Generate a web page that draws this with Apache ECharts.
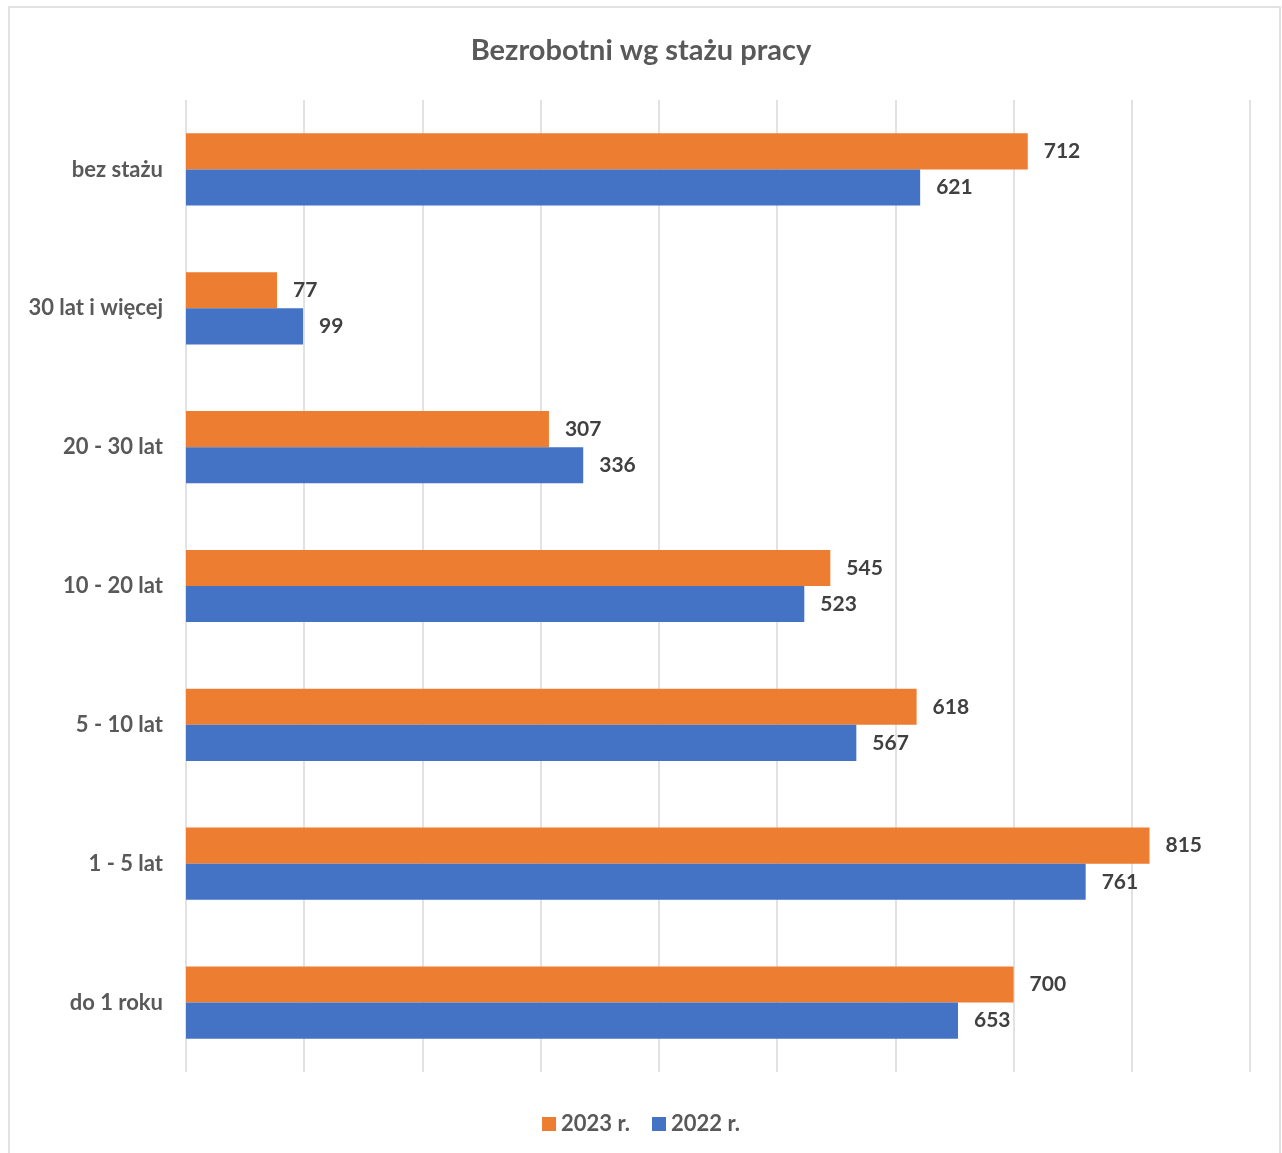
<!DOCTYPE html>
<html><head><meta charset="utf-8">
<script src="https://cdn.jsdelivr.net/npm/echarts@6/dist/echarts.min.js"></script>
<style>html,body{margin:0;padding:0;background:#fff;}#c{width:1282px;height:1153px;}</style>
</head><body><div id="c"></div>
<script>
const categories = ['do 1 roku','1 - 5 lat','5 - 10 lat','10 - 20 lat','20 - 30 lat','30 lat i więcej','bez stażu'];
const values2023 = [700, 815, 618, 545, 307, 77, 712];
const values2022 = [653, 761, 567, 523, 336, 99, 621];
const seriesNames = ['2023 r.', '2022 r.'];
const FONT = 'Lato, "Open Sans", sans-serif';
const chart = echarts.init(document.getElementById('c'));
const lbl = {show:true, position:'right', distance:16, fontFamily:FONT, fontWeight:'bold', fontSize:21, color:'#404040'};
chart.setOption({
  animation:false,
  graphic:[{type:'rect', shape:{x:9,y:7,width:1271,height:1170}, style:{fill:'none', stroke:'#d9d9d9', lineWidth:1.5}, z:-1}],
  title:{text:'Bezrobotni wg stażu pracy', left:'center', top:31, textStyle:{fontFamily:FONT, fontWeight:'bold', fontSize:29, color:'#595959'}},
  legend:{data:seriesNames, bottom:13, left:'center', itemWidth:14, itemHeight:14, itemGap:22, icon:'rect',
    formatter:function(n){return '{b|' + n + '}';},
    textStyle:{fontFamily:FONT, fontWeight:'bold', fontSize:22, color:'#595959',
      rich:{b:{fontFamily:FONT, fontWeight:'bold', fontSize:22, color:'#595959'}}}},
  grid:{left:186, right:32, top:100, bottom:81, containLabel:false},
  xAxis:{type:'value', min:0, max:900, interval:100, axisLabel:{show:false}, axisLine:{show:false}, axisTick:{show:false},
    splitLine:{lineStyle:{color:'#d9d9d9', width:1.5}}},
  yAxis:{type:'category', data:categories, axisLine:{show:false}, axisTick:{show:false},
    axisLabel:{margin:23, fontFamily:FONT, fontWeight:'bold', fontSize:22, color:'#595959'}},
  series:[
    {name:'2023 r.', type:'bar', data:values2023, barGap:'0%', barCategoryGap:'48%', itemStyle:{color:'#ed7d31'}, label:lbl},
    {name:'2022 r.', type:'bar', data:values2022, barGap:'0%', barCategoryGap:'48%', itemStyle:{color:'#4472c4'}, label:lbl}
  ]
});
</script></body></html>
